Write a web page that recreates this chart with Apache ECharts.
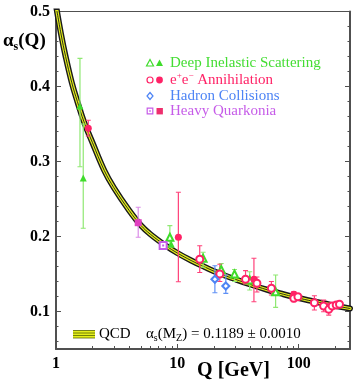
<!DOCTYPE html>
<html><head><meta charset="utf-8">
<script src="https://cdn.jsdelivr.net/npm/echarts@6/dist/echarts.min.js"></script>
<style>html,body{margin:0;padding:0;background:#fff}#c{width:354px;height:382px}</style>
</head><body><div id="c"></div>
<script>
// QCD curve
const qcdQ     = [1.0, 1.1, 1.2, 1.35, 1.5, 1.7, 2.0, 2.5, 3.0, 4.0, 5.0, 6.0, 8.0, 10, 13, 17, 22, 30, 40, 55, 75, 91, 120, 160, 210, 265];
const qcdAlpha = [0.508, 0.47, 0.44, 0.405, 0.38, 0.353, 0.325, 0.288, 0.265, 0.235, 0.215, 0.203, 0.188, 0.178, 0.168, 0.159, 0.151, 0.143, 0.136, 0.129, 0.123, 0.1195, 0.115, 0.111, 0.107, 0.104];

// [Q, alpha, low, high]
const disOpen = [[8.68,0.199,0.1864,0.2144],[16.3,0.171,0.159,0.179],[23.0,0.156,0.146,0.164],[29.6,0.150,0.140,0.156],[39.5,0.142,0.1287,0.153],[64.6,0.1264,0.1056,0.1487]];
const disFilled = [[1.576,0.374,0.293,0.4376],[1.677,0.278,0.211,0.35],[8.9,0.190,0.186,0.194]];
const eeFilled = [[1.845,0.3443,0.334,0.355],[10.2,0.199,0.1397,0.259],[42.8,0.143,0.113,0.171],[91.2,0.123,0.1195,0.1265]];
const eeOpen = [[15.3,0.1696,0.152,0.1877],[22.4,0.150,0.140,0.163],[36.5,0.143,0.1367,0.1544],[45.3,0.1376,0.126,0.146],[59.6,0.131,0.122,0.140],[91.2,0.1177,0.113,0.1225],[98.6,0.1197,0.116,0.1235],[134.8,0.1117,0.102,0.121],[160.6,0.1073,0.0997,0.1153],[177,0.1029,0.0953,0.111],[188.8,0.1073,0.104,0.111],[204,0.1087,0.105,0.112],[217,0.1096,0.106,0.113]];
const hadronOpen = [[20.4,0.143,0.125,0.161],[25.1,0.134,0.1243,0.1487]];
const quarkFilled = [[4.76,0.2184,0.199,0.239]];
const quarkOpen = [[7.64,0.188,0.184,0.192]];

const xMajorTicks = [1, 10, 100];
const xMinorTicks = [2,3,4,5,6,7,8,9,20,30,40,50,60,70,80,90,200];
const yMajorTicks = [0.1, 0.2, 0.3, 0.4, 0.5];
const yMinorTicks = [0.06,0.08,0.12,0.14,0.16,0.18,0.22,0.24,0.26,0.28,0.32,0.34,0.36,0.38,0.42,0.44,0.46,0.48];

const GREEN='#3fdc2b', GREENBAR='#8fe872', PINK='#ff2266', PINKBAR='#ff4079', BLUE='#4d84f5', BLUEBAR='#5f90f5', PURPLE='#c65ce8', PURPLEFILL='#e03fc0', PURPLEBAR='#da8ce8';
const AX='#505050';
const SERIF='"Liberation Serif", "DejaVu Serif", serif';

const chart = echarts.init(document.getElementById('c'), null, {renderer:'canvas'});

function errSeries(data, color) {
  return {
    type:'custom', z:3, silent:true, clip:true,
    data: data.map(d => [d[0], d[2], d[3]]),
    encode:{x:0, y:[1,2]},
    renderItem(params, api) {
      const x = api.value(0);
      const lo = api.coord([x, api.value(1)]);
      const hi = api.coord([x, api.value(2)]);
      const w = 2.5, st = {stroke:color, lineWidth:1.2};
      return {type:'group', children:[
        {type:'line', shape:{x1:lo[0],y1:lo[1],x2:hi[0],y2:hi[1]}, style:st},
        {type:'line', shape:{x1:lo[0]-w,y1:lo[1],x2:lo[0]+w,y2:lo[1]}, style:st},
        {type:'line', shape:{x1:hi[0]-w,y1:hi[1],x2:hi[0]+w,y2:hi[1]}, style:st}
      ]};
    }
  };
}
function pts(data, symbol, color, size, z) {
  return {type:'scatter', z:z||5, silent:true, symbol, symbolSize:size,
    data: data.map(d => [d[0], d[1]]),
    itemStyle:{color, borderColor:color, borderWidth: symbol.startsWith('empty') ? 1.2 : 0, opacity:1}};
}
const curve = qcdQ.map((q,i) => [q, qcdAlpha[i]]);
function curveLine(color, width, z) {
  return {type:'line', data:curve, smooth:0.4, symbol:'none', z, silent:true,
    lineStyle:{color, width, cap:'round'}};
}

const yBase = {type:'value', min:0.05, max:0.5, splitLine:{show:false}, gridIndex:0};
const xBase = {type:'log', logBase:10, min:1, max:265, splitLine:{show:false}, gridIndex:0};

chart.setOption({
  animation:false,
  grid:{left:56, right:4, top:11.5, bottom:33, show:true, borderColor:AX, borderWidth:1, backgroundColor:'transparent'},
  xAxis:[
    Object.assign({}, xBase, {position:'bottom',
      axisLine:{show:true, lineStyle:{color:AX, width:2}},
      axisTick:{show:true, inside:true, length:5, customValues:xMajorTicks, lineStyle:{color:AX, width:1}},
      axisLabel:{show:true, customValues:xMajorTicks, margin:7, color:'#000', fontFamily:SERIF, fontWeight:'bold', fontSize:16, formatter: v => String(Math.round(v))}}),
    Object.assign({}, xBase, {position:'bottom',
      axisLine:{show:false},
      axisTick:{show:true, inside:true, length:3, customValues:xMinorTicks, lineStyle:{color:AX, width:1}},
      axisLabel:{show:false}})
  ],
  yAxis:[
    Object.assign({}, yBase, {position:'left',
      axisLine:{show:true, onZero:false, lineStyle:{color:AX, width:2}},
      axisTick:{show:true, inside:true, length:5, customValues:yMajorTicks, lineStyle:{color:AX, width:1}},
      axisLabel:{show:true, customValues:yMajorTicks, margin:6, color:'#000', fontFamily:SERIF, fontWeight:'bold', fontSize:16, formatter: v => v.toFixed(1)}}),
    Object.assign({}, yBase, {position:'left',
      axisLine:{show:false},
      axisTick:{show:true, inside:true, length:2.5, customValues:yMinorTicks, lineStyle:{color:AX, width:1}},
      axisLabel:{show:false}}),
    Object.assign({}, yBase, {position:'right',
      axisLine:{show:true, onZero:false, lineStyle:{color:AX, width:2}},
      axisTick:{show:true, inside:true, length:5, customValues:yMajorTicks, lineStyle:{color:AX, width:1}},
      axisLabel:{show:false}}),
    Object.assign({}, yBase, {position:'right',
      axisLine:{show:false},
      axisTick:{show:true, inside:true, length:2.5, customValues:yMinorTicks, lineStyle:{color:AX, width:1}},
      axisLabel:{show:false}})
  ],
  series:[
    curveLine('#1a1a1a', 6, 1),
    curveLine('#e4ef1c', 3.2, 1.1),
    curveLine('#1a1a1a', 0.9, 1.2),
    errSeries(disOpen, GREENBAR), errSeries(disFilled, GREENBAR),
    errSeries(eeFilled, PINKBAR), errSeries(eeOpen, PINKBAR),
    errSeries(hadronOpen, BLUEBAR),
    errSeries(quarkFilled, PURPLEBAR), errSeries(quarkOpen, PURPLEBAR),
    pts(disFilled, 'triangle', GREEN, 7),
    pts(disOpen, 'emptyTriangle', GREEN, 7),
    pts(eeFilled, 'circle', PINK, 7),
    pts(eeOpen, 'emptyCircle', PINK, 7),
    pts(hadronOpen, 'emptyDiamond', BLUE, 7),
    pts(quarkFilled, 'rect', PURPLEFILL, 7),
    pts(quarkOpen, 'emptyRect', PURPLE, 7),
    pts(quarkOpen, 'rect', PURPLE, 2, 6)
  ],
  graphic:[
    // y-axis title
    {type:'text', left:3, top:32, style:{text:'{a|α}{s|s}{a|(Q)}', rich:{
      a:{fontFamily:SERIF, fontWeight:'bold', fontSize:19, fill:'#000', lineHeight:22, verticalAlign:'middle'},
      s:{fontFamily:SERIF, fontWeight:'bold', fontSize:12, fill:'#000', lineHeight:22, verticalAlign:'bottom'}}}},
    // x-axis title
    {type:'text', x:233.5, y:371, style:{text:'Q [GeV]', font:'bold 20px '+SERIF, fill:'#000', align:'center', verticalAlign:'middle', textAlign:'center', textVerticalAlign:'middle'}},
    // legend
    {type:'polygon', shape:{points:[[150,59.5],[146.5,66],[153.5,66]]}, style:{fill:'#fff', stroke:GREEN, lineWidth:1.2}},
    {type:'polygon', shape:{points:[[159.5,59.5],[156,66],[163,66]]}, style:{fill:GREEN}},
    {type:'text', x:170, y:63, style:{text:'Deep Inelastic Scattering', font:'15px '+SERIF, fill:'#44dd33', verticalAlign:'middle', textVerticalAlign:'middle'}},
    {type:'circle', shape:{cx:150, cy:80, r:3}, style:{fill:'#fff', stroke:PINK, lineWidth:1.2}},
    {type:'circle', shape:{cx:159.5, cy:80, r:3.4}, style:{fill:PINK}},
    {type:'text', x:170, y:80, style:{text:'e{p|+}e{p|−} Annihilation', font:'15px '+SERIF, fill:PINK, verticalAlign:'middle', textVerticalAlign:'middle',
      rich:{p:{fontFamily:SERIF, fontSize:9, fill:PINK, verticalAlign:'top', lineHeight:17}}}},
    {type:'polygon', shape:{points:[[150,92.5],[153,96],[150,99.5],[147,96]]}, style:{fill:'#fff', stroke:BLUE, lineWidth:1.2}},
    {type:'text', x:170, y:96, style:{text:'Hadron Collisions', font:'15px '+SERIF, fill:BLUE, verticalAlign:'middle', textVerticalAlign:'middle'}},
    {type:'rect', shape:{x:147.2, y:108.2, width:5.6, height:5.6}, style:{fill:'#fff', stroke:PURPLE, lineWidth:1.2}},
    {type:'rect', shape:{x:149.2, y:110.2, width:1.6, height:1.6}, style:{fill:PURPLE}},
    {type:'rect', shape:{x:156.5, y:108, width:6.4, height:6.4}, style:{fill:'#ee2f6e'}},
    {type:'text', x:170, y:111, style:{text:'Heavy Quarkonia', font:'15px '+SERIF, fill:PURPLE, verticalAlign:'middle', textVerticalAlign:'middle'}},
    // QCD key
    {type:'rect', shape:{x:73, y:330.5, width:22, height:7.5}, style:{fill:'#e4ef1c'}},
    {type:'line', shape:{x1:73, y1:330.5, x2:95, y2:330.5}, style:{stroke:'#556600', lineWidth:0.8}},
    {type:'line', shape:{x1:73, y1:333, x2:95, y2:333}, style:{stroke:'#556600', lineWidth:0.8}},
    {type:'line', shape:{x1:73, y1:335.5, x2:95, y2:335.5}, style:{stroke:'#556600', lineWidth:0.8}},
    {type:'line', shape:{x1:73, y1:338, x2:95, y2:338}, style:{stroke:'#556600', lineWidth:0.8}},
    {type:'text', x:99, y:334, style:{text:'QCD', font:'15px '+SERIF, fill:'#000', verticalAlign:'middle', textVerticalAlign:'middle'}},
    {type:'text', x:146, y:334, style:{text:'{a|α}{s|s}{a|(M}{s|Z}{a|) = 0.1189 ± 0.0010}', verticalAlign:'middle', textVerticalAlign:'middle', rich:{
      a:{fontFamily:SERIF, fontSize:15, fill:'#000', lineHeight:18, verticalAlign:'middle'},
      s:{fontFamily:SERIF, fontSize:10, fill:'#000', lineHeight:18, verticalAlign:'bottom'}}}}
  ]
});
</script>
</body></html>
